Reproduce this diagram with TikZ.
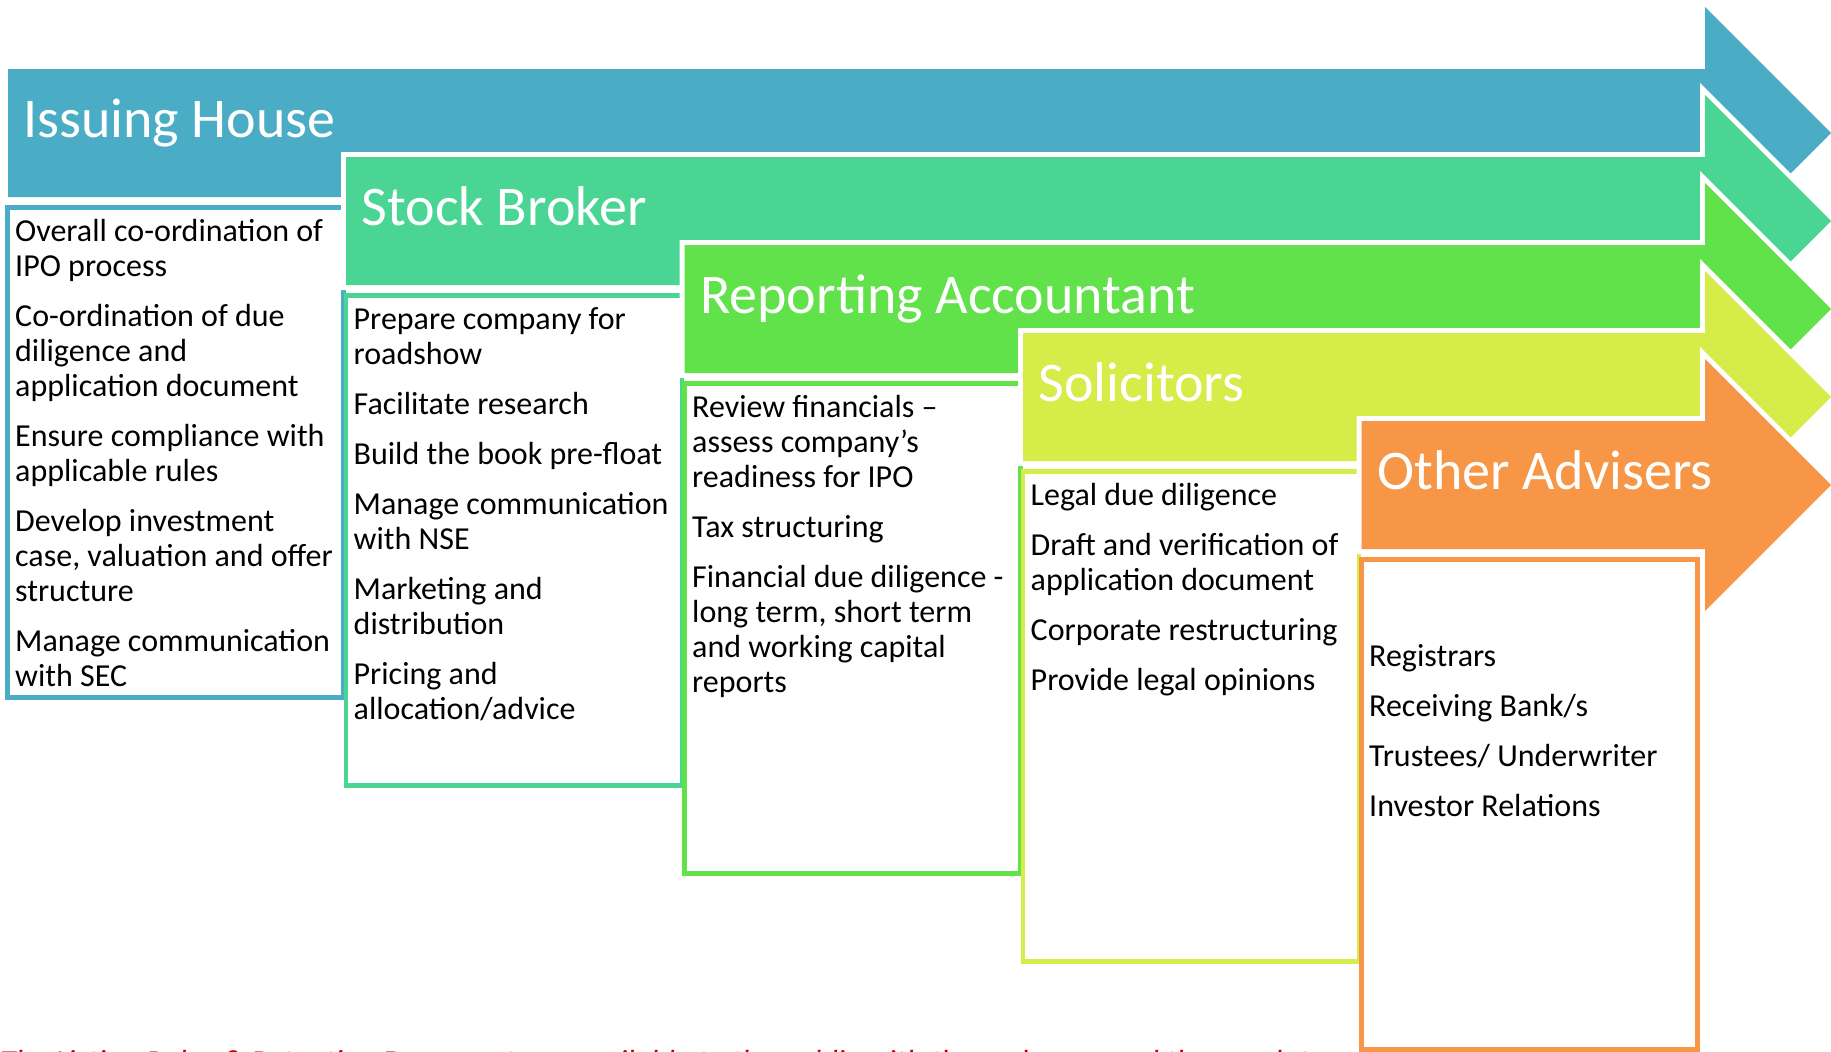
\documentclass[tikz,border=0pt]{standalone}
\usepackage{fontspec}
\setmainfont{Carlito}

\definecolor{issuing}{HTML}{4BACC6}
\definecolor{broker}{HTML}{4AD594}
\definecolor{accountant}{HTML}{61E14A}
\definecolor{solicitor}{HTML}{D6EC48}
\definecolor{adviser}{HTML}{F79646}
\definecolor{noteRed}{HTML}{C00000}

\begin{document}
\begin{tikzpicture}[
        x=1pt, y=-1pt,
        stage/.style={preaction={draw=white, line width=10pt, line join=miter}},
        title/.style={anchor=base west, inner sep=0pt, text=white, font=\fontsize{56}{60}\selectfont},
        panel/.style={rectangle, line width=4.5pt, anchor=north west, minimum width=336pt, minimum height=490pt, inner sep=0pt},
        duties/.style={anchor=north west, inner sep=0pt, align=left, font=\fontsize{32}{35}\selectfont}
    ]
    \useasboundingbox (0,0) rectangle (1831,1052);

    % Issuing House
    \fill[stage, fill=issuing] (8,69) -- (1705,69) -- (1705,7) -- (1831,133) -- (1705,259) -- (1705,197) -- (8,197) -- cycle;
    \node[title] (issuingTitle) at (23,137) {Issuing House};
    \node[panel, draw=issuing] (issuingBox) at (5,205) {};
    \node[duties] (issuingDuties) at (15,216.5) {\strut Overall co-ordination of\\IPO process\\[15pt]
        Co-ordination of due\\diligence and\\application document\\[15pt]
        Ensure compliance with\\applicable rules\\[15pt]
        Develop investment\\case, valuation and offer\\structure\\[15pt]
        Manage communication\\with SEC};

    % Stock Broker
    \fill[stage, fill=broker] (346,157) -- (1705,157) -- (1705,95) -- (1831,221) -- (1705,347) -- (1705,285) -- (346,285) -- cycle;
    \node[title] (brokerTitle) at (361.5,225) {Stock Broker};
    \node[panel, draw=broker] (brokerBox) at (343.5,293) {};
    \node[duties] (brokerDuties) at (353.5,304.5) {\strut Prepare company for\\roadshow\\[15pt]
        Facilitate research\\[15pt]
        Build the book pre-float\\[15pt]
        Manage communication\\with NSE\\[15pt]
        Marketing and\\distribution\\[15pt]
        Pricing and\\allocation/advice};

    % Reporting Accountant
    \fill[stage, fill=accountant] (684.5,245) -- (1705,245) -- (1705,183) -- (1831,309) -- (1705,435) -- (1705,373) -- (684.5,373) -- cycle;
    \node[title] (accountantTitle) at (700,313) {Reporting Accountant};
    \node[panel, draw=accountant] (accountantBox) at (682,381) {};
    \node[duties] (accountantDuties) at (692,392.5) {\strut Review financials –\\assess company’s\\readiness for IPO\\[15pt]
        Tax structuring\\[15pt]
        Financial due diligence -\\long term, short term\\and working capital\\reports};

    % Solicitors
    \fill[stage, fill=solicitor] (1023,333) -- (1705,333) -- (1705,271) -- (1831,397) -- (1705,523) -- (1705,461) -- (1023,461) -- cycle;
    \node[title] (solicitorTitle) at (1038.5,401) {Solicitors};
    \node[panel, draw=solicitor] (solicitorBox) at (1020.5,469) {};
    \node[duties] (solicitorDuties) at (1030.5,480.5) {\strut Legal due diligence\\[15pt]
        Draft and verification of\\application document\\[15pt]
        Corporate restructuring\\[15pt]
        Provide legal opinions};

    % Other Advisers
    \fill[stage, fill=adviser] (1361.5,421) -- (1705,421) -- (1705,359) -- (1831,485) -- (1705,611) -- (1705,549) -- (1361.5,549) -- cycle;
    \node[title] (adviserTitle) at (1377,489) {Other Advisers};
    \node[panel, draw=adviser] (adviserBox) at (1359,557) {};
    \node[duties] (adviserDuties) at (1369,641.5) {\strut Registrars\\[15pt]
        Receiving Bank/s\\[15pt]
        Trustees/ Underwriter\\[15pt]
        Investor Relations};

    % footnote, cut at the lower edge
    \begin{scope}
        \clip (0,0) rectangle (1831,1052);
        \node[anchor=base west, inner sep=0pt, text=noteRed, font=\fontsize{32}{35}\selectfont\itshape] (note) at (0,1072)
            {The Listing Rules \& Retention Document are available to the public with the exchange and the regulator};
    \end{scope}

\end{tikzpicture}
\end{document}
